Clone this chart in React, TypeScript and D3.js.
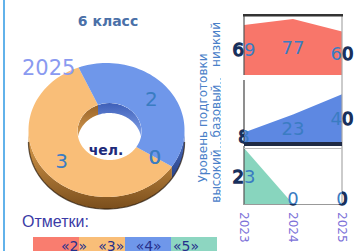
import * as d3 from "d3";

// donut: 2025 marks
const grades = ["«2»", "«3»", "«4»", "«5»"];
const gradeColors = ["#f97d6f", "#f9be78", "#6f97ea", "#8dd6c1"];
const gradeSide = [["#c85a50", "#8a3a30"], ["#e3a452", "#7a4e1c"], ["#4f72c8", "#2a4488"], ["#5ab09a", "#2f7a68"]];
const gradeWall = [["#a04a40", "#d87a6c"], ["#9a6428", "#dca258"], ["#3e5fb8", "#8eaef2"], ["#3f8c78", "#86d0bc"]];
const counts = [0, 3, 2, 0];
const yearLabel = "2025";

// small multiples: share by level (%)
const years = ["2023", "2024", "2025"];
const levels = ["низкий", "базовый", "высокий"];
const levelColors = ["#f8766a", "#5d88e2", "#88d5be"];
const lowShare = [69, 77, 60];
const baseShare = [8, 23, 40];
const highShare = [23, 0, 0];
const levelMax = [84, 52, 23];

const W = 361, H = 251;
const DON = { cx: 106.5, cy: 130, rx: 78, ry: 67, icx: 109.5, icy: 131.5, irx: 32, iry: 28.5, depth: 12 };
const TAU = Math.PI * 2;

function arcPts(cx: number, cy: number, rx: number, ry: number, a0: number, a1: number, dy = 0) {
  const n = Math.max(2, Math.ceil(Math.abs(a1 - a0) / 0.04));
  return d3.range(n + 1).map(i => {
    const a = a0 + ((a1 - a0) * i) / n;
    return [cx + rx * Math.sin(a), cy - ry * Math.cos(a) + dy] as [number, number];
  });
}

function overlap(a0: number, a1: number, lo: number, hi: number) {
  const out: [number, number][] = [];
  for (const k of [-1, 0, 1, 2]) {
    const s = Math.max(a0, lo + TAU * k), e = Math.min(a1, hi + TAU * k);
    if (e > s) out.push([s, e]);
  }
  return out;
}

const line = d3.line();

export default function App() {
  const start = (123 * Math.PI) / 180;
  const pie = d3.pie<number>().sort(null).startAngle(start).endAngle(start + TAU)(counts);
  const { cx, cy, rx, ry, icx, icy, irx, iry, depth } = DON;

  const x = d3.scalePoint<string>().domain(years).range([244, 342]);
  const panels = [
    { values: lowShare, top: 14, bottom: 75, color: levelColors[0], max: levelMax[0] },
    { values: baseShare, top: 80, bottom: 142, color: levelColors[1], max: levelMax[1] },
    { values: highShare, top: 148, bottom: 204, color: levelColors[2], max: levelMax[2] },
  ];

  const legendBand = d3.scaleBand<string>().domain(grades).range([33, 217]);
  const legendText = d3.scalePoint<string>().domain(grades).range([74, 186]);

  const font = "'DejaVu Sans', sans-serif";

  return (
    <svg width={W} height={H} style={{ position: "absolute", left: 0, top: 0, background: "#fff" }} fontFamily={font}>
      <defs>
        {grades.map((g, i) => (
          <linearGradient key={"s" + i} id={"side" + i} x1="0" y1="0" x2="0" y2="1">
            <stop offset="0" stopColor={gradeSide[i][0]} />
            <stop offset="1" stopColor={gradeSide[i][1]} />
          </linearGradient>
        ))}
        {grades.map((g, i) => (
          <linearGradient key={"w" + i} id={"wall" + i} x1="0" y1="0" x2="0" y2="1">
            <stop offset="0" stopColor={gradeWall[i][0]} />
            <stop offset="1" stopColor={gradeWall[i][1]} />
          </linearGradient>
        ))}
        <clipPath id="hole">
          <ellipse cx={icx} cy={icy} rx={irx} ry={iry} />
        </clipPath>
        {panels.map((p, i) => (
          <clipPath key={"in" + i} id={"in" + i}>
            <rect x={244} y={p.top} width={98} height={p.bottom - p.top} />
          </clipPath>
        ))}
        {panels.map((p, i) => (
          <clipPath key={"out" + i} id={"out" + i}>
            <path clipRule="evenodd" d={`M0,0H${W}V${H}H0Z M244,${p.top}V${p.bottom}H342V${p.top}Z`} />
          </clipPath>
        ))}
      </defs>

      {/* frame lines */}
      <line x1={4} x2={4} y1={0} y2={H} stroke="#62b2ea" strokeWidth={2} />
      <line x1={220.5} x2={220.5} y1={78} y2={200} stroke="#9ccff2" strokeDasharray="2,2" />

      <text x={108} y={26} textAnchor="middle" fontSize={14} fontWeight="bold" fill="#4a70a8">6 класс</text>

      {/* outer side of donut */}
      {pie.map((s, i) =>
        overlap(s.startAngle, s.endAngle, Math.PI / 2, (3 * Math.PI) / 2).map(([a, b], j) => (
          <path key={`side${i}-${j}`} fill={`url(#side${i})`}
            d={line([...arcPts(cx, cy, rx, ry, a, b), ...arcPts(cx, cy, rx, ry, b, a, depth)])! + "Z"} />
        ))
      )}
      <path d={line(arcPts(cx, cy, rx, ry, Math.PI / 2, (3 * Math.PI) / 2, depth))!} fill="none" stroke="#2a1a0a" strokeWidth={1.3} strokeOpacity={0.7} />

      {/* top surface */}
      {pie.map((s, i) =>
        s.endAngle > s.startAngle ? (
          <path key={"top" + i} fill={gradeColors[i]}
            d={line([...arcPts(cx, cy, rx, ry, s.startAngle, s.endAngle), ...arcPts(icx, icy, irx, iry, s.endAngle, s.startAngle)])! + "Z"} />
        ) : null
      )}

      {/* inner wall seen through the hole */}
      <g clipPath="url(#hole)">
        {pie.map((s, i) =>
          overlap(s.startAngle, s.endAngle, -Math.PI / 2, Math.PI / 2).map(([a, b], j) => (
            <path key={`wall${i}-${j}`} fill={`url(#wall${i})`}
              d={line([...arcPts(icx, icy, irx, iry, a, b), ...arcPts(icx, icy, irx, iry, b, a, depth - 2)])! + "Z"} />
          ))
        )}
      </g>

      {pie.map((s, i) => {
        const mid = (s.startAngle + s.endAngle) / 2;
        const f = 0.74;
        return (
          <text key={"lab" + i} x={cx + rx * f * Math.sin(mid)} y={cy - ry * f * Math.cos(mid)} textAnchor="middle"
            dominantBaseline="central" fontSize={20} fill="#3a7cc2">{s.data}</text>
        );
      })}

      <text x={106} y={155} textAnchor="middle" fontSize={14} fontWeight="bold" fill="#1e2a7a">чел.</text>
      <text x={22} y={75} fontSize={21} fill="#8a9af0">{yearLabel}</text>

      {/* legend */}
      <text x={22} y={227} fontSize={16} fill="#3b3ba6" fontFamily="'Liberation Sans', sans-serif">Отметки:</text>
      {grades.map((g, i) => (
        <rect key={"lr" + i} x={legendBand(g)} y={237} width={legendBand.bandwidth()} height={16} fill={gradeColors[i]} />
      ))}
      {grades.map(g => (
        <text key={"lt" + g} x={legendText(g)} y={251} textAnchor="middle" fontSize={14} fill="#26308c">{g}</text>
      ))}

      {/* level axis titles */}
      <text transform="translate(203,118) rotate(-90)" textAnchor="middle" dominantBaseline="central" fontSize={12} fill="#4a80c8">Уровень подготовки</text>
      {levels.map((l, i) => (
        <text key={l} transform={`translate(216,${(panels[i].top + panels[i].bottom) / 2}) rotate(-90)`} textAnchor="middle"
          dominantBaseline="central" fontSize={12} fill="#4a80c8">{l}</text>
      ))}

      {/* small multiples */}
      {panels.map((p, i) => {
        const y = d3.scaleLinear([0, p.max], [p.bottom, p.top]);
        const area = d3.area<number>().x((_, k) => x(years[k])!).y0(p.bottom).y1(d => y(d));
        return <path key={"panel" + i} d={area(p.values)!} fill={p.color} />;
      })}
      <line x1={342} x2={342} y1={14} y2={205} stroke="#a8a8a8" strokeWidth={1.2} />
      <line x1={244} x2={244} y1={14} y2={75} stroke="#555" strokeWidth={1.2} />
      <line x1={244} x2={244} y1={80} y2={144} stroke="#444" strokeWidth={1.2} />
      <line x1={244} x2={244} y1={146} y2={205} stroke="#555" strokeWidth={1.2} />
      <line x1={243} x2={343} y1={15.3} y2={15.3} stroke="#333" strokeWidth={2.6} />
      <line x1={244} x2={342} y1={144} y2={144} stroke="#1f2a44" strokeWidth={4} />
      <line x1={244} x2={342} y1={148.5} y2={148.5} stroke="#bbb" strokeWidth={1} />
      <line x1={244} x2={342} y1={204.5} y2={204.5} stroke="#999" strokeWidth={1.2} />

      {panels.map((p, i) => {
        const y = d3.scaleLinear([0, p.max], [p.bottom, p.top]);
        return p.values.map((v, k) => {
          const ty = Math.min((y(v) + p.bottom) / 2, p.bottom - 6);
          return (
            <g key={`pl${i}-${k}`}>
              <text clipPath={`url(#in${i})`} x={x(years[k])} y={ty} textAnchor="middle" dominantBaseline="central" fontSize={18} fill="#3a7cc2">{v}</text>
              <text clipPath={`url(#out${i})`} x={x(years[k])} y={ty} textAnchor="middle" dominantBaseline="central" fontSize={18} fill="#18305c" stroke="#18305c" strokeWidth={1.4}>{v}</text>
            </g>
          );
        });
      })}

      {years.map(yr => (
        <text key={yr} transform={`translate(${x(yr)},212) rotate(90)`} dominantBaseline="central" fontSize={12} fill="#7d72d8">{yr}</text>
      ))}
    </svg>
  );
}
